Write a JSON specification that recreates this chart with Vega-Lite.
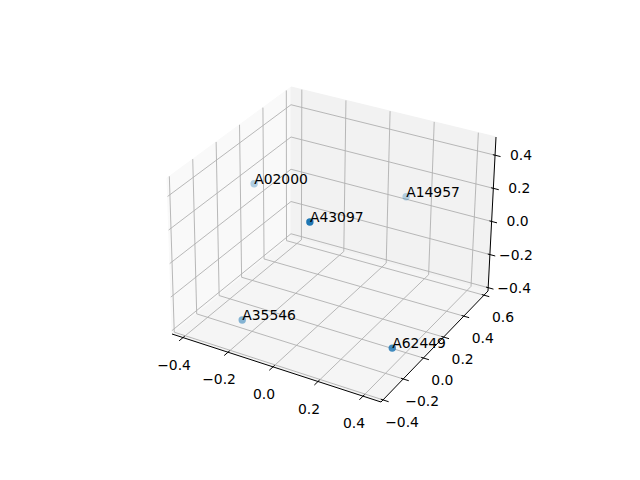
{
  "$schema": "https://vega.github.io/schema/vega-lite/v6.json",
  "width": 640,
  "height": 480,
  "padding": 0,
  "autosize": "none",
  "background": "white",
  "config": {"view": {"stroke": null}},
  "data": {"values": [
    {"kind":"pane_x","id":"px","k":0,"x":-0.449,"y":-0.42,"z":-0.42},
    {"kind":"pane_x","id":"px","k":1,"x":-0.449,"y":0.64,"z":-0.42},
    {"kind":"pane_x","id":"px","k":2,"x":-0.449,"y":0.64,"z":0.51},
    {"kind":"pane_x","id":"px","k":3,"x":-0.449,"y":-0.42,"z":0.51},
    {"kind":"pane_y","id":"py","k":0,"x":-0.449,"y":0.64,"z":-0.42},
    {"kind":"pane_y","id":"py","k":1,"x":0.48,"y":0.64,"z":-0.42},
    {"kind":"pane_y","id":"py","k":2,"x":0.48,"y":0.64,"z":0.51},
    {"kind":"pane_y","id":"py","k":3,"x":-0.449,"y":0.64,"z":0.51},
    {"kind":"pane_z","id":"pz","k":0,"x":-0.449,"y":-0.42,"z":-0.42},
    {"kind":"pane_z","id":"pz","k":1,"x":0.48,"y":-0.42,"z":-0.42},
    {"kind":"pane_z","id":"pz","k":2,"x":0.48,"y":0.64,"z":-0.42},
    {"kind":"pane_z","id":"pz","k":3,"x":-0.449,"y":0.64,"z":-0.42},

    {"kind":"grid","id":"gx1","k":0,"x":-0.4,"y":-0.42,"z":-0.42},
    {"kind":"grid","id":"gx1","k":1,"x":-0.4,"y":0.64,"z":-0.42},
    {"kind":"grid","id":"gx1","k":2,"x":-0.4,"y":0.64,"z":0.51},
    {"kind":"grid","id":"gx2","k":0,"x":-0.2,"y":-0.42,"z":-0.42},
    {"kind":"grid","id":"gx2","k":1,"x":-0.2,"y":0.64,"z":-0.42},
    {"kind":"grid","id":"gx2","k":2,"x":-0.2,"y":0.64,"z":0.51},
    {"kind":"grid","id":"gx3","k":0,"x":0.0,"y":-0.42,"z":-0.42},
    {"kind":"grid","id":"gx3","k":1,"x":0.0,"y":0.64,"z":-0.42},
    {"kind":"grid","id":"gx3","k":2,"x":0.0,"y":0.64,"z":0.51},
    {"kind":"grid","id":"gx4","k":0,"x":0.2,"y":-0.42,"z":-0.42},
    {"kind":"grid","id":"gx4","k":1,"x":0.2,"y":0.64,"z":-0.42},
    {"kind":"grid","id":"gx4","k":2,"x":0.2,"y":0.64,"z":0.51},
    {"kind":"grid","id":"gx5","k":0,"x":0.4,"y":-0.42,"z":-0.42},
    {"kind":"grid","id":"gx5","k":1,"x":0.4,"y":0.64,"z":-0.42},
    {"kind":"grid","id":"gx5","k":2,"x":0.4,"y":0.64,"z":0.51},

    {"kind":"grid","id":"gy1","k":0,"x":0.48,"y":-0.4,"z":-0.42},
    {"kind":"grid","id":"gy1","k":1,"x":-0.449,"y":-0.4,"z":-0.42},
    {"kind":"grid","id":"gy1","k":2,"x":-0.449,"y":-0.4,"z":0.51},
    {"kind":"grid","id":"gy2","k":0,"x":0.48,"y":-0.2,"z":-0.42},
    {"kind":"grid","id":"gy2","k":1,"x":-0.449,"y":-0.2,"z":-0.42},
    {"kind":"grid","id":"gy2","k":2,"x":-0.449,"y":-0.2,"z":0.51},
    {"kind":"grid","id":"gy3","k":0,"x":0.48,"y":0.0,"z":-0.42},
    {"kind":"grid","id":"gy3","k":1,"x":-0.449,"y":0.0,"z":-0.42},
    {"kind":"grid","id":"gy3","k":2,"x":-0.449,"y":0.0,"z":0.51},
    {"kind":"grid","id":"gy4","k":0,"x":0.48,"y":0.2,"z":-0.42},
    {"kind":"grid","id":"gy4","k":1,"x":-0.449,"y":0.2,"z":-0.42},
    {"kind":"grid","id":"gy4","k":2,"x":-0.449,"y":0.2,"z":0.51},
    {"kind":"grid","id":"gy5","k":0,"x":0.48,"y":0.4,"z":-0.42},
    {"kind":"grid","id":"gy5","k":1,"x":-0.449,"y":0.4,"z":-0.42},
    {"kind":"grid","id":"gy5","k":2,"x":-0.449,"y":0.4,"z":0.51},
    {"kind":"grid","id":"gy6","k":0,"x":0.48,"y":0.6,"z":-0.42},
    {"kind":"grid","id":"gy6","k":1,"x":-0.449,"y":0.6,"z":-0.42},
    {"kind":"grid","id":"gy6","k":2,"x":-0.449,"y":0.6,"z":0.51},

    {"kind":"grid","id":"gz1","k":0,"x":-0.449,"y":-0.42,"z":-0.4},
    {"kind":"grid","id":"gz1","k":1,"x":-0.449,"y":0.64,"z":-0.4},
    {"kind":"grid","id":"gz1","k":2,"x":0.48,"y":0.64,"z":-0.4},
    {"kind":"grid","id":"gz2","k":0,"x":-0.449,"y":-0.42,"z":-0.2},
    {"kind":"grid","id":"gz2","k":1,"x":-0.449,"y":0.64,"z":-0.2},
    {"kind":"grid","id":"gz2","k":2,"x":0.48,"y":0.64,"z":-0.2},
    {"kind":"grid","id":"gz3","k":0,"x":-0.449,"y":-0.42,"z":0.0},
    {"kind":"grid","id":"gz3","k":1,"x":-0.449,"y":0.64,"z":0.0},
    {"kind":"grid","id":"gz3","k":2,"x":0.48,"y":0.64,"z":0.0},
    {"kind":"grid","id":"gz4","k":0,"x":-0.449,"y":-0.42,"z":0.2},
    {"kind":"grid","id":"gz4","k":1,"x":-0.449,"y":0.64,"z":0.2},
    {"kind":"grid","id":"gz4","k":2,"x":0.48,"y":0.64,"z":0.2},
    {"kind":"grid","id":"gz5","k":0,"x":-0.449,"y":-0.42,"z":0.4},
    {"kind":"grid","id":"gz5","k":1,"x":-0.449,"y":0.64,"z":0.4},
    {"kind":"grid","id":"gz5","k":2,"x":0.48,"y":0.64,"z":0.4},

    {"kind":"axis","id":"ax","k":0,"x":-0.449,"y":-0.42,"z":-0.42},
    {"kind":"axis","id":"ax","k":1,"x":0.48,"y":-0.42,"z":-0.42},
    {"kind":"axis","id":"ax","k":2,"x":0.48,"y":0.64,"z":-0.42},
    {"kind":"axis","id":"ax","k":3,"x":0.48,"y":0.64,"z":0.51},

    {"kind":"tick","id":"tx1","k":0,"x":-0.4,"y":-0.405,"z":-0.42},
    {"kind":"tick","id":"tx1","k":1,"x":-0.4,"y":-0.455,"z":-0.42},
    {"kind":"tick","id":"tx2","k":0,"x":-0.2,"y":-0.405,"z":-0.42},
    {"kind":"tick","id":"tx2","k":1,"x":-0.2,"y":-0.455,"z":-0.42},
    {"kind":"tick","id":"tx3","k":0,"x":0.0,"y":-0.405,"z":-0.42},
    {"kind":"tick","id":"tx3","k":1,"x":0.0,"y":-0.455,"z":-0.42},
    {"kind":"tick","id":"tx4","k":0,"x":0.2,"y":-0.405,"z":-0.42},
    {"kind":"tick","id":"tx4","k":1,"x":0.2,"y":-0.455,"z":-0.42},
    {"kind":"tick","id":"tx5","k":0,"x":0.4,"y":-0.405,"z":-0.42},
    {"kind":"tick","id":"tx5","k":1,"x":0.4,"y":-0.455,"z":-0.42},
    {"kind":"tick","id":"ty1","k":0,"x":0.47,"y":-0.4,"z":-0.42},
    {"kind":"tick","id":"ty1","k":1,"x":0.505,"y":-0.4,"z":-0.42},
    {"kind":"tick","id":"ty2","k":0,"x":0.47,"y":-0.2,"z":-0.42},
    {"kind":"tick","id":"ty2","k":1,"x":0.505,"y":-0.2,"z":-0.42},
    {"kind":"tick","id":"ty3","k":0,"x":0.47,"y":0.0,"z":-0.42},
    {"kind":"tick","id":"ty3","k":1,"x":0.505,"y":0.0,"z":-0.42},
    {"kind":"tick","id":"ty4","k":0,"x":0.47,"y":0.2,"z":-0.42},
    {"kind":"tick","id":"ty4","k":1,"x":0.505,"y":0.2,"z":-0.42},
    {"kind":"tick","id":"ty5","k":0,"x":0.47,"y":0.4,"z":-0.42},
    {"kind":"tick","id":"ty5","k":1,"x":0.505,"y":0.4,"z":-0.42},
    {"kind":"tick","id":"ty6","k":0,"x":0.47,"y":0.6,"z":-0.42},
    {"kind":"tick","id":"ty6","k":1,"x":0.505,"y":0.6,"z":-0.42},
    {"kind":"tick","id":"tz1","k":0,"x":0.47,"y":0.64,"z":-0.4},
    {"kind":"tick","id":"tz1","k":1,"x":0.505,"y":0.64,"z":-0.4},
    {"kind":"tick","id":"tz2","k":0,"x":0.47,"y":0.64,"z":-0.2},
    {"kind":"tick","id":"tz2","k":1,"x":0.505,"y":0.64,"z":-0.2},
    {"kind":"tick","id":"tz3","k":0,"x":0.47,"y":0.64,"z":0.0},
    {"kind":"tick","id":"tz3","k":1,"x":0.505,"y":0.64,"z":0.0},
    {"kind":"tick","id":"tz4","k":0,"x":0.47,"y":0.64,"z":0.2},
    {"kind":"tick","id":"tz4","k":1,"x":0.505,"y":0.64,"z":0.2},
    {"kind":"tick","id":"tz5","k":0,"x":0.47,"y":0.64,"z":0.4},
    {"kind":"tick","id":"tz5","k":1,"x":0.505,"y":0.64,"z":0.4},

    {"kind":"xlab","label":"−0.4","x":-0.4,"y":-0.42,"z":-0.42},
    {"kind":"xlab","label":"−0.2","x":-0.2,"y":-0.42,"z":-0.42},
    {"kind":"xlab","label":"0.0","x":0.0,"y":-0.42,"z":-0.42},
    {"kind":"xlab","label":"0.2","x":0.2,"y":-0.42,"z":-0.42},
    {"kind":"xlab","label":"0.4","x":0.4,"y":-0.42,"z":-0.42},
    {"kind":"ylab","label":"−0.4","x":0.48,"y":-0.4,"z":-0.42},
    {"kind":"ylab","label":"−0.2","x":0.48,"y":-0.2,"z":-0.42},
    {"kind":"ylab","label":"0.0","x":0.48,"y":0.0,"z":-0.42},
    {"kind":"ylab","label":"0.2","x":0.48,"y":0.2,"z":-0.42},
    {"kind":"ylab","label":"0.4","x":0.48,"y":0.4,"z":-0.42},
    {"kind":"ylab","label":"0.6","x":0.48,"y":0.6,"z":-0.42},
    {"kind":"zlab","label":"−0.4","x":0.48,"y":0.64,"z":-0.4},
    {"kind":"zlab","label":"−0.2","x":0.48,"y":0.64,"z":-0.2},
    {"kind":"zlab","label":"0.0","x":0.48,"y":0.64,"z":0.0},
    {"kind":"zlab","label":"0.2","x":0.48,"y":0.64,"z":0.2},
    {"kind":"zlab","label":"0.4","x":0.48,"y":0.64,"z":0.4},

    {"kind":"pt","label":"A02000","x":-0.379,"y":0.185,"z":0.1845},
    {"kind":"pt","label":"A14957","x":0.133,"y":0.538,"z":0.0915},
    {"kind":"pt","label":"A43097","x":0.114,"y":-0.312,"z":0.417},
    {"kind":"pt","label":"A35546","x":-0.215,"y":-0.257,"z":-0.327},
    {"kind":"pt","label":"A62449","x":0.444,"y":-0.2345,"z":-0.234}
  ]},
  "transform": [
    {"calculate": "(datum.x + 0.449) / 0.929", "as": "u"},
    {"calculate": "(datum.y + 0.42) / 1.06", "as": "v"},
    {"calculate": "(datum.z + 0.42) / 0.93", "as": "w"},
    {"calculate": "(1-datum.u)*(1-datum.v)*172 + datum.u*(1-datum.v)*381 + datum.u*datum.v*488 + (1-datum.u)*datum.v*291", "as": "bx"},
    {"calculate": "(1-datum.u)*(1-datum.v)*334 + datum.u*(1-datum.v)*402 + datum.u*datum.v*291 + (1-datum.u)*datum.v*237", "as": "by"},
    {"calculate": "(1-datum.u)*(1-datum.v)*167 + datum.u*(1-datum.v)*383 + datum.u*datum.v*496 + (1-datum.u)*datum.v*291", "as": "tx"},
    {"calculate": "(1-datum.u)*(1-datum.v)*178 + datum.u*(1-datum.v)*241 + datum.u*datum.v*137 + (1-datum.u)*datum.v*87", "as": "ty"},
    {"calculate": "(1-datum.w)*datum.bx + datum.w*datum.tx", "as": "sx"},
    {"calculate": "(1-datum.w)*datum.by + datum.w*datum.ty", "as": "sy"},
    {"calculate": "1.732*datum.u - 3*datum.v + 1.5*datum.w", "as": "near"}
  ],
  "encoding": {
    "x": {"field": "sx", "type": "quantitative", "scale": {"domain": [0, 640], "nice": false, "zero": false}, "axis": null},
    "y": {"field": "sy", "type": "quantitative", "scale": {"domain": [480, 0], "nice": false, "zero": false}, "axis": null}
  },
  "layer": [
    {"transform": [{"filter": "datum.kind === 'pane_x'"}],
     "mark": {"type": "line", "interpolate": "linear-closed", "fill": "#f9f9f9", "stroke": "#f9f9f9", "strokeWidth": 1},
     "encoding": {"order": {"field": "k", "type": "quantitative"}}},
    {"transform": [{"filter": "datum.kind === 'pane_y'"}],
     "mark": {"type": "line", "interpolate": "linear-closed", "fill": "#f2f2f2", "stroke": "#f2f2f2", "strokeWidth": 1},
     "encoding": {"order": {"field": "k", "type": "quantitative"}}},
    {"transform": [{"filter": "datum.kind === 'pane_z'"}],
     "mark": {"type": "line", "interpolate": "linear-closed", "fill": "#f5f5f5", "stroke": "#f5f5f5", "strokeWidth": 1},
     "encoding": {"order": {"field": "k", "type": "quantitative"}}},
    {"transform": [{"filter": "datum.kind === 'grid'"}],
     "mark": {"type": "line", "stroke": "#b0b0b0", "strokeWidth": 0.9},
     "encoding": {"detail": {"field": "id"}, "order": {"field": "k", "type": "quantitative"}}},
    {"transform": [{"filter": "datum.kind === 'axis'"}],
     "mark": {"type": "line", "stroke": "#000000", "strokeWidth": 1},
     "encoding": {"detail": {"field": "id"}, "order": {"field": "k", "type": "quantitative"}}},
    {"transform": [{"filter": "datum.kind === 'tick'"}],
     "mark": {"type": "line", "stroke": "#000000", "strokeWidth": 1},
     "encoding": {"detail": {"field": "id"}, "order": {"field": "k", "type": "quantitative"}}},
    {"transform": [{"filter": "datum.kind === 'xlab'"}],
     "mark": {"type": "text", "font": "DejaVu Sans", "fontSize": 13.9, "color": "#000000", "align": "center", "baseline": "middle", "dx": -9, "dy": 28},
     "encoding": {"text": {"field": "label"}}},
    {"transform": [{"filter": "datum.kind === 'ylab'"}],
     "mark": {"type": "text", "font": "DejaVu Sans", "fontSize": 13.9, "color": "#000000", "align": "center", "baseline": "middle", "dx": 19, "dy": 23},
     "encoding": {"text": {"field": "label"}}},
    {"transform": [{"filter": "datum.kind === 'zlab'"}],
     "mark": {"type": "text", "font": "DejaVu Sans", "fontSize": 13.9, "color": "#000000", "align": "center", "baseline": "middle", "dx": 26, "dy": 1},
     "encoding": {"text": {"field": "label"}}},
    {"transform": [{"filter": "datum.kind === 'pt'"}],
     "mark": {"type": "circle", "size": 55, "color": "#1f77b4"},
     "encoding": {"opacity": {"field": "near", "type": "quantitative", "scale": {"range": [0.3, 1], "zero": false}, "legend": null}}},
    {"transform": [{"filter": "datum.kind === 'pt'"}],
     "mark": {"type": "text", "font": "DejaVu Sans", "fontSize": 13.9, "color": "#000000", "align": "left", "baseline": "alphabetic", "dx": 0, "dy": 0},
     "encoding": {"text": {"field": "label"}}}
  ]
}
